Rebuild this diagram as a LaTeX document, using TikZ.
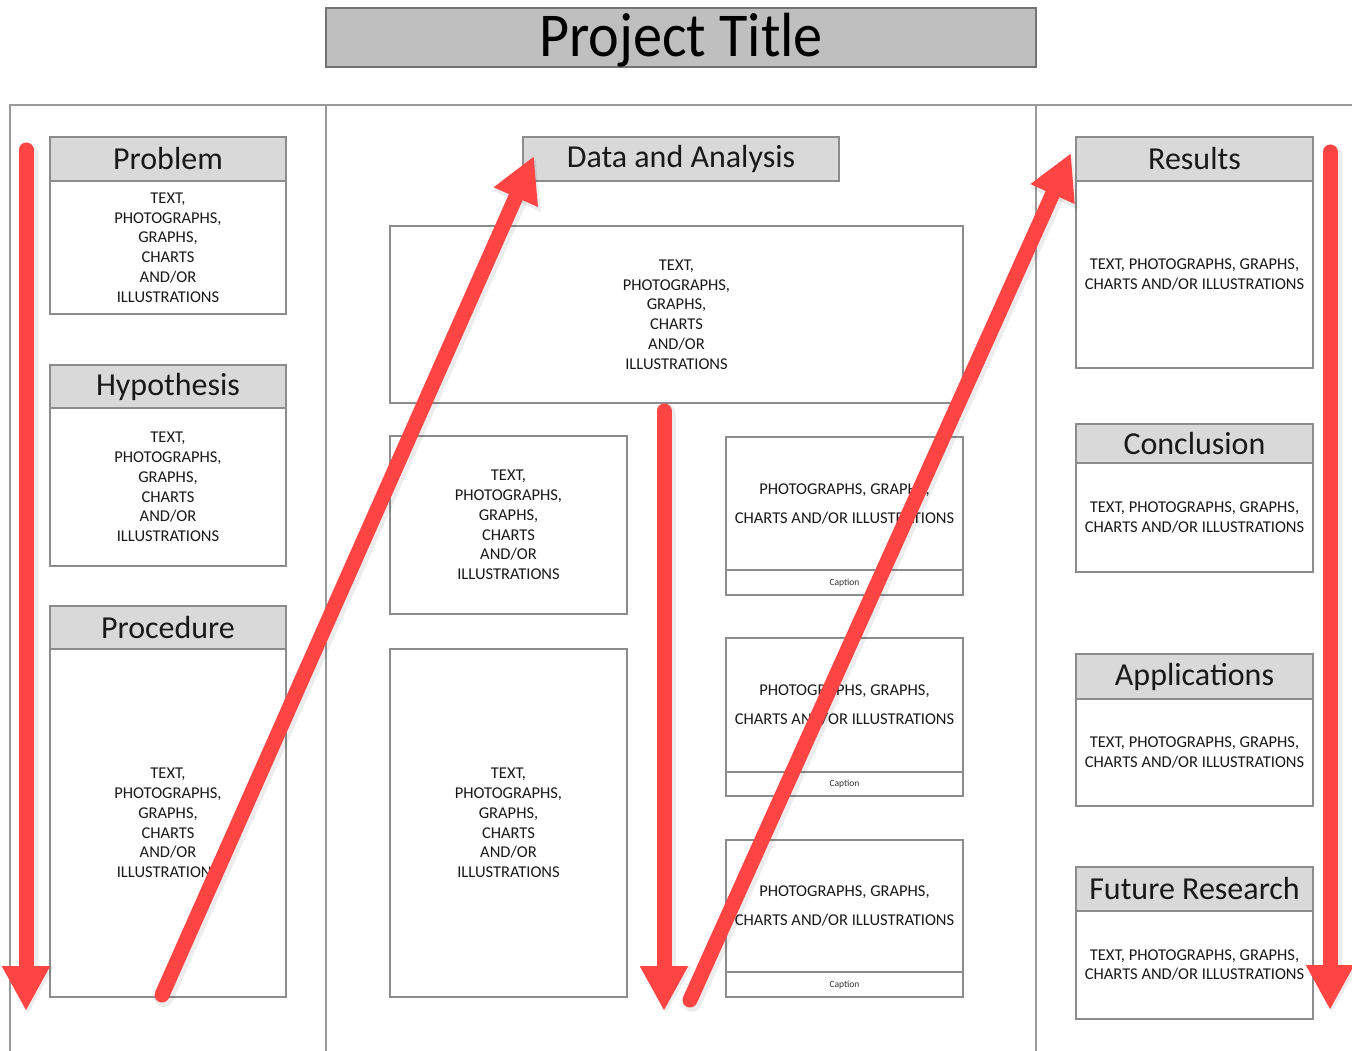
\documentclass[tikz,border=0pt]{standalone}
\usepackage{fontspec}
\setmainfont{Carlito}
\usetikzlibrary{arrows.meta}
\definecolor{hdrgray}{HTML}{D9D9D9}
\definecolor{titlegray}{HTML}{BFBFBF}
\definecolor{boxline}{HTML}{8C8C8C}
\definecolor{panelline}{HTML}{9A9A9A}
\definecolor{arrowred}{HTML}{FF4444}
\begin{document}
\begin{tikzpicture}[x=1pt,y=-1pt,
  titlebox/.style={draw=black!55, line width=1.5pt, fill=titlegray, inner sep=0pt},
  titletext/.style={inner sep=0pt, font=\fontsize{60}{66}\selectfont},
  hdr/.style={draw=boxline, line width=1.5pt, fill=hdrgray, inner sep=0pt,
    font=\fontsize{32}{36}\selectfont, text=black!90},
  body/.style={draw=boxline, line width=1.5pt, fill=white, inner sep=0pt, align=center,
    font=\fontsize{16.5}{19.8}\selectfont, text=black!90},
  photo/.style={draw=boxline, line width=1.5pt, fill=white, inner sep=0pt, align=center,
    font=\fontsize{16.5}{29}\selectfont, text=black!90},
  capt/.style={draw=boxline, line width=1.5pt, fill=white, inner sep=0pt,
    font=\fontsize{9.5}{11}\selectfont, text=black!80},
  panel/.style={draw=panelline, line width=1.3pt},
  redarrow/.style={draw=arrowred, line width=15pt, line cap=round,
    -{Triangle[width=45pt,length=45pt]}},
  arrowshadow/.style={draw=black, opacity=0.07, line width=19pt, line cap=round,
    -{Triangle[width=49pt,length=47pt]}, transform canvas={shift={(2pt,-2.5pt)}}}
]
\useasboundingbox (0,0) rectangle (1352,1051);
\fill[white] (0,0) rectangle (1352,1051);

% panels
\draw[panel] (10,1051) -- (10,105) -- (1352,105);
\draw[panel] (326,105) -- (326,1051);
\draw[panel] (1036,105) -- (1036,1051);

% title
\node[titlebox, minimum width=710pt, minimum height=59pt] (title) at (681,37.5) {};
\node[titletext, anchor=base] (titletxt) at (681,57) {\scalebox{0.97}[1.04]{Project Title}};

\newcommand\sixlines{TEXT,\\PHOTOGRAPHS,\\GRAPHS,\\CHARTS\\AND/OR\\ILLUSTRATIONS}
\newcommand\twolines{TEXT, PHOTOGRAPHS, GRAPHS,\\CHARTS AND/OR ILLUSTRATIONS}
\newcommand\photolines{PHOTOGRAPHS, GRAPHS,\\CHARTS AND/OR ILLUSTRATIONS}

% left column
\node[hdr, minimum width=236pt, minimum height=44pt] (probH) at (168,159) {Problem};
\node[body, minimum width=236pt, minimum height=133pt] (probB) at (168,247.5) {\sixlines};
\node[hdr, minimum width=236pt, minimum height=43pt] (hypH) at (168,386.5) {Hypothesis};
\node[body, minimum width=236pt, minimum height=158pt] (hypB) at (168,487) {\sixlines};
\node[hdr, minimum width=236pt, minimum height=43pt] (procH) at (168,627.5) {Procedure};
\node[body, minimum width=236pt, minimum height=348pt] (procB) at (168,823) {\sixlines};

% middle column
\node[hdr, minimum width=316pt, minimum height=44pt] (dataH) at (681,159) {Data and Analysis};
\node[body, minimum width=573pt, minimum height=177pt] (bigB) at (676.5,314.5) {\sixlines};
\node[body, minimum width=237pt, minimum height=178pt] (midA) at (508.5,525) {\sixlines};
\node[body, minimum width=237pt, minimum height=348pt] (midB) at (508.5,823) {\sixlines};

\node[photo, minimum width=237pt, minimum height=133pt] (phA) at (844.5,503.5) {\photolines};
\node[capt, minimum width=237pt, minimum height=25pt] (capA) at (844.5,582.5) {Caption};
\node[photo, minimum width=237pt, minimum height=134pt] (phB) at (844.5,705) {\photolines};
\node[capt, minimum width=237pt, minimum height=24pt] (capB) at (844.5,784) {Caption};
\node[photo, minimum width=237pt, minimum height=132pt] (phC) at (844.5,906) {\photolines};
\node[capt, minimum width=237pt, minimum height=25pt] (capC) at (844.5,984.5) {Caption};

% right column
\node[hdr, minimum width=237pt, minimum height=44pt] (resH) at (1194.5,159) {Results};
\node[body, minimum width=237pt, minimum height=187pt] (resB) at (1194.5,274.5) {\twolines};
\node[hdr, minimum width=237pt, minimum height=39pt] (conH) at (1194.5,443.5) {Conclusion};
\node[body, minimum width=237pt, minimum height=109pt] (conB) at (1194.5,517.5) {\twolines};
\node[hdr, minimum width=237pt, minimum height=45pt] (appH) at (1194.5,676.5) {Applications};
\node[body, minimum width=237pt, minimum height=107pt] (appB) at (1194.5,752.5) {\twolines};
\node[hdr, minimum width=237pt, minimum height=44pt] (futH) at (1194.5,889) {Future Research};
\node[body, minimum width=237pt, minimum height=108pt] (futB) at (1194.5,965) {\twolines};

% arrows
\coordinate (a1s) at (26,150);   \coordinate (a1e) at (26,1011);
\coordinate (a2s) at (162,995);  \coordinate (a2e) at (534,156);
\coordinate (a3s) at (664,411);  \coordinate (a3e) at (664,1011);
\coordinate (a4s) at (690,1000); \coordinate (a4e) at (1071,153);
\coordinate (a5s) at (1330,152); \coordinate (a5e) at (1330,1010);

\foreach \s/\e in {a1s/a1e, a2s/a2e, a3s/a3e, a4s/a4e, a5s/a5e}{
  \draw[arrowshadow] (\s) -- (\e);
}
\foreach \s/\e in {a1s/a1e, a2s/a2e, a3s/a3e, a4s/a4e, a5s/a5e}{
  \draw[redarrow] (\s) -- (\e);
}
\end{tikzpicture}
\end{document}
